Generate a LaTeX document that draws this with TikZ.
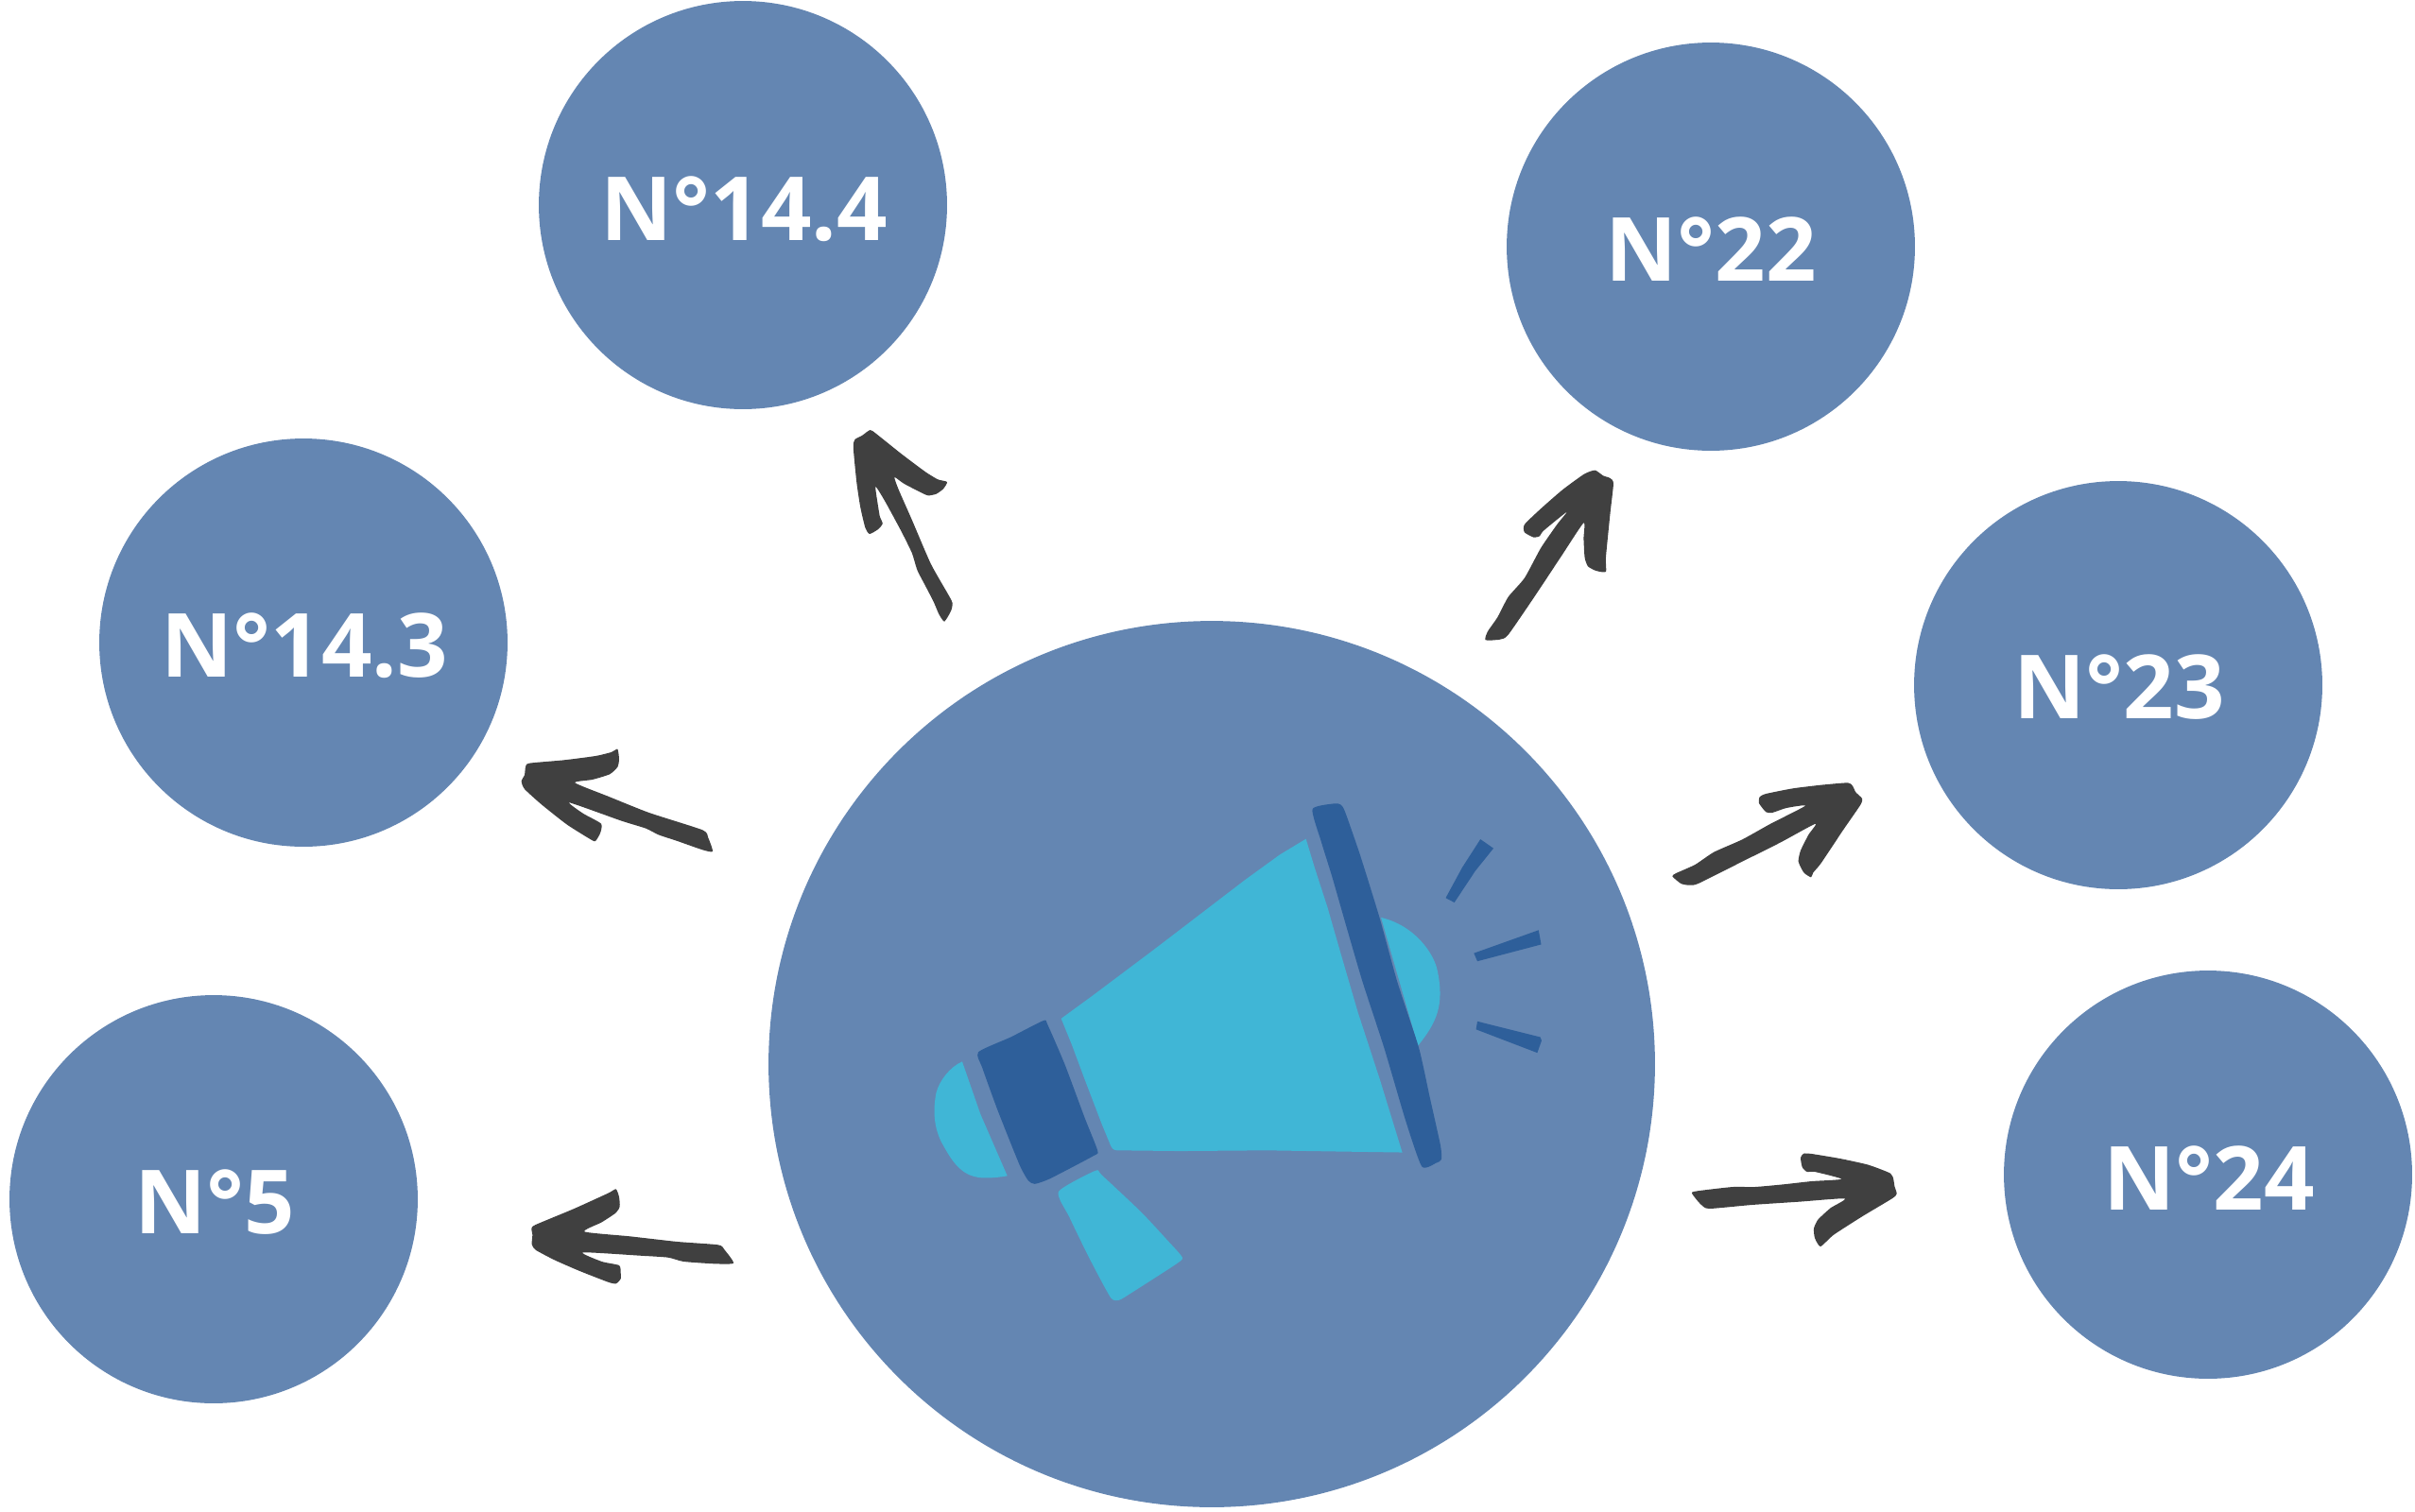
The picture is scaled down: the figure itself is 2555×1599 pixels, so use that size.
\documentclass[tikz,border=0pt]{standalone}
\usepackage{fontspec}
\setmainfont{Open Sans}
\definecolor{discblue}{HTML}{6486B2}
\definecolor{hornblue}{HTML}{40B6D6}
\definecolor{darkblue}{HTML}{2E5F9A}
\definecolor{arrowgrey}{HTML}{404040}
\tikzset{
  disc/.style={circle,fill=discblue,minimum size=8.64cm,inner sep=0pt},
  disclabel/.style={inner sep=0pt,text=white,font=\fontsize{53.3}{60}\selectfont\bfseries},
  bigdisc/.style={circle,fill=discblue,minimum size=18.76cm,inner sep=0pt},
  scribble/.style={fill=arrowgrey},
  curve/.style={smooth cycle,tension=0.35},
  horn/.style={fill=hornblue},
  band/.style={fill=darkblue}
}
\begin{document}
\begin{tikzpicture}[x=0.02cm,y=-0.02cm]
\useasboundingbox (0,0) rectangle (2555,1599);
\node[bigdisc] (centre) at (1282,1126) {};
\node[disc] (n144) at (786,217) {};
\node[disc] (n22) at (1810,261) {};
\node[disc] (n143) at (321,680) {};
\node[disc] (n23) at (2241,725) {};
\node[disc] (n5) at (226,1269) {};
\node[disc] (n24) at (2336,1243) {};
\node[disclabel] (t144) at (787,221.5) {N°14.4};
\node[disclabel] (t22) at (1810,264) {N°22};
\node[disclabel] (t143) at (322,683) {N°14.3};
\node[disclabel] (t23) at (2242,727.5) {N°23};
\node[disclabel] (t5) at (227,1272) {N°5};
\node[disclabel] (t24) at (2337,1246.5) {N°24};
% megaphone
\begin{scope}[shift={(950,820)},x=0.009183cm,y=-0.0074cm]
\fill[horn] (940,183)--(960,265)--(990,380)--(1020,510)--(1060,680)--(1110,870)--(1162,1080)--(1000,1077)--(850,1074)--(650,1076)--(505,1074) to[out=180,in=-70] (490,1060)--(470,1000)--(430,870)--(400,770)--(376,697)--(450,630)--(600,490)--(800,300)--(880,228)--cycle;
\fill[horn] (1113,408) .. controls (1190,430) and (1235,510) .. (1243,560) .. controls (1260,660) and (1240,710) .. (1198,775)--cycle;
\fill[horn] (148,820)--(190,970)--(252,1147) .. controls (225,1153) and (195,1155) .. (180,1150) .. controls (140,1140) and (120,1095) .. (100,1050) .. controls (80,1000) and (82,950) .. (88,910) .. controls (95,875) and (120,835) .. (148,820)--cycle;
\fill[horn] plot[curve] coordinates {(370,1192)(455,1132)(470,1145)(560,1250)(620,1330)(655,1380)(640,1400)(540,1480)(510,1502)(490,1495)(440,1380)(395,1265)};
\fill[band] plot[curve] coordinates {(955,98)(1005,82)(1020,85)(1030,105)(1065,230)(1110,410)(1150,590)(1200,780)(1225,920)(1250,1060)(1252,1100)(1240,1110)(1207,1120)(1170,990)(1120,780)(1070,590)(1030,420)(1000,290)(975,190)};
\fill[band] plot[curve] coordinates {(185,793)(260,750)(335,703)(345,715)(385,830)(430,980)(460,1075)(450,1090)(350,1155)(315,1170)(300,1160)(280,1115)(230,960)(195,840)};
\fill[band] (1342,184)--(1372,210)--(1330,275)--(1282,365)--(1262,352)--(1300,265)--cycle;
\fill[band] (1327,510)--(1476,444)--(1482,485)--(1335,533)--cycle;
\fill[band] (1335,705)--(1480,750)--(1483,760)--(1473,795)--(1332,728)--cycle;
\end{scope}
% hand-drawn arrows
\begin{scope}[shift={(850,430)},x=0.01148cm,y=-0.006667cm]
\fill[scribble] plot[curve] coordinates {(123,75)(135,88)(180,150)(225,208)(248,232)(265,240)(258,262)(245,278)(230,283)(215,272)(185,245)(168,225)(175,262)(200,360)(235,500)(268,600)(275,625)(272,650)(260,683)(250,660)(240,620)(225,570)(210,520)(200,465)(180,395)(150,300)(133,255)(138,320)(141,350)(146,372)(138,390)(122,405)(114,385)(105,320)(98,240)(92,130)(95,105)(108,93)};
\fill[scribble] plot[curve] coordinates {(1460,203)(1475,220)(1488,228)(1494,245)(1488,340)(1480,480)(1480,525)(1462,522)(1447,508)(1441,480)(1439,420)(1439,370)(1400,470)(1350,600)(1300,725)(1285,740)(1258,742)(1262,715)(1280,670)(1300,605)(1330,545)(1360,450)(1390,375)(1408,335)(1365,395)(1358,412)(1347,416)(1330,400)(1330,375)(1360,325)(1400,265)(1440,215)};
\end{scope}
\begin{scope}[shift={(530,770)},x=0.006667cm,y=-0.006667cm]
\fill[scribble] plot[curve] coordinates {(370,68)(375,100)(370,125)(345,148)(290,165)(235,175)(340,218)(470,270)(640,325)(658,350)(672,393)(640,388)(560,360)(500,340)(460,320)(380,295)(218,238)(260,272)(318,305)(315,335)(300,360)(285,355)(210,308)(130,245)(75,195)(65,170)(75,150)(78,125)(90,113)(200,103)(300,90)(350,78)};
\end{scope}
\begin{scope}[shift={(1750,800)},x=0.006667cm,y=-0.006667cm]
\fill[scribble] plot[curve] coordinates {(58,382)(70,372)(130,345)(190,305)(280,265)(370,215)(480,158)(420,165)(375,180)(355,178)(333,150)(335,130)(355,120)(440,103)(530,92)(615,85)(630,95)(640,115)(660,135)(655,155)(600,235)(530,340)(505,370)(498,385)(475,370)(458,335)(465,300)(490,250)(512,215)(400,275)(280,335)(140,405)(110,410)(85,405)};
\end{scope}
\begin{scope}[shift={(1770,1200)},x=0.006667cm,y=-0.006667cm]
\fill[scribble] plot[curve] coordinates {(60,185)(100,178)(190,168)(260,168)(350,160)(440,150)(535,143)(450,120)(425,120)(410,105)(405,75)(415,62)(440,63)(530,78)(620,98)(690,125)(700,145)(703,165)(710,190)(695,205)(600,262)(510,320)(468,357)(450,330)(447,300)(460,272)(500,235)(545,205)(400,215)(250,225)(115,237)(90,225)(72,205)};
\end{scope}
\begin{scope}[shift={(550,1240)},x=0.006667cm,y=-0.006667cm]
\fill[scribble] plot[curve] coordinates {(305,55)(315,80)(317,110)(305,130)(260,160)(205,190)(350,205)(500,222)(630,232)(650,248)(678,290)(620,292)(520,285)(470,272)(380,266)(200,256)(260,285)(315,297)(320,320)(320,340)(305,355)(280,350)(190,315)(110,280)(50,248)(38,230)(40,200)(37,180)(50,168)(170,118)(280,68)};
\end{scope}
\end{tikzpicture}
\end{document}
